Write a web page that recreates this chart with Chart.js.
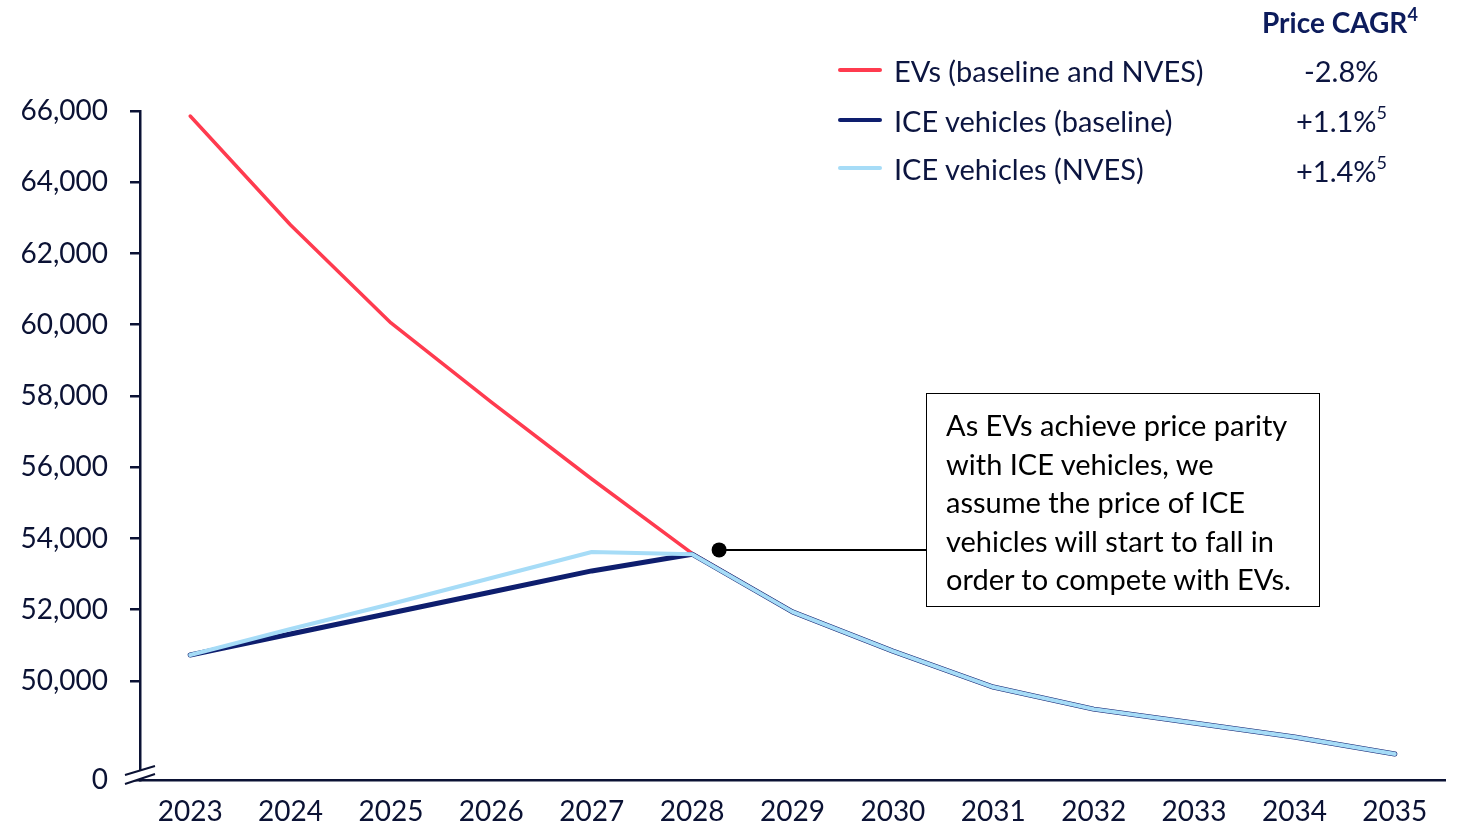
<!DOCTYPE html>
<html>
<head>
    <meta charset="UTF-8">
    <title>EV vs ICE price</title>
    <script src="https://cdn.jsdelivr.net/npm/chart.js@4.4.1/dist/chart.umd.min.js"></script>
    <style>
        body { margin: 0; background: #fff; font-family: Lato, sans-serif; }
        #wrap { position: relative; width: 1461px; height: 828px; }
        .txt { position: absolute; white-space: nowrap; color: #0c1540; font-size: 29px; line-height: 1; }
        .sw { position: absolute; left: 838px; width: 44px; height: 4px; border-radius: 2px; }
        sup { font-size: 18px; position: relative; top: -3px; vertical-align: top; }
        #note { position: absolute; left: 926px; top: 393px; width: 394px; height: 214px; border: 1.5px solid #000;
                box-sizing: border-box; padding: 12px 0 0 19px; font-size: 29px; line-height: 38.6px; color: #000; }
    </style>
</head>
<body>
<div id="wrap">
    <canvas id="myChart" width="1461" height="828"></canvas>

    <div class="txt" style="left:1262px; top:8px; font-weight:700; color:#0d1c5c; font-size:28px;">Price CAGR<sup>4</sup></div>

    <div class="sw" style="top:68px; background:#ff3b4f;"></div>
    <div class="sw" style="top:118px; background:#0e1e6e;"></div>
    <div class="sw" style="top:166px; background:#a6dcf7;"></div>
    <div class="txt" id="lg0" style="left:894px; top:56px;"></div>
    <div class="txt" id="lg1" style="left:894px; top:106px;"></div>
    <div class="txt" id="lg2" style="left:894px; top:154px;"></div>
    <div class="txt" id="cg0" style="left:1304px; top:56px;"></div>
    <div class="txt" id="cg1" style="left:1296px; top:106px;"></div>
    <div class="txt" id="cg2" style="left:1296px; top:156px;"></div>

    <div id="note">As EVs achieve price parity<br>with ICE vehicles, we<br>assume the price of ICE<br>vehicles will start to fall in<br>order to compete with EVs.</div>
</div>

<script>
    // data
    let years = ["2023", "2024", "2025", "2026", "2027", "2028", "2029", "2030", "2031", "2032", "2033", "2034", "2035"];
    let evPrice = [65860, 62800, 60050, 57830, 55670, 53580, 51940, 50840, 49830, 49210, 48820, 48430, 47950];
    let iceBase = [50730, 51320, 51910, 52500, 53090, 53560, 51940, 50840, 49830, 49210, 48820, 48430, 47950];
    let iceNves = [50730, 51460, 52160, 52890, 53620, 53560, 51940, 50840, 49830, 49210, 48820, 48430, 47950];
    let seriesNames = ["EVs (baseline and NVES)", "ICE vehicles (baseline)", "ICE vehicles (NVES)"];
    let cagr = ["-2.8%", "+1.1%<sup>5</sup>", "+1.4%<sup>5</sup>"];
    let yTicks = [50000, 52000, 54000, 56000, 58000, 60000, 62000, 64000, 66000];
    let yBreak = 47221; // where the "0" sits after the axis break

    for (let i = 0; i < 3; i++) {
        document.getElementById("lg" + i).textContent = seriesNames[i];
        document.getElementById("cg" + i).innerHTML = cagr[i];
    }

    const navy = "#0b1234";

    // axis break marks + the callout line/dot
    const extras = {
        id: "extras",
        afterDraw(chart) {
            const c = chart.ctx;
            const x0 = chart.scales.x.left;
            const yb = chart.scales.y.getPixelForValue(yBreak) - 9;
            c.save();
            c.fillStyle = "#fff";
            c.beginPath();
            c.moveTo(x0 - 15, yb + 4);
            c.lineTo(x0 + 15, yb - 5);
            c.lineTo(x0 + 15, yb + 3);
            c.lineTo(x0 - 15, yb + 13);
            c.closePath();
            c.fill();
            c.strokeStyle = navy;
            c.lineWidth = 2;
            c.beginPath();
            c.moveTo(x0 - 15, yb + 4); c.lineTo(x0 + 15, yb - 5);
            c.moveTo(x0 - 15, yb + 13); c.lineTo(x0 + 15, yb + 3);
            c.stroke();

            // callout
            const px = chart.scales.x.getPixelForValue(5) + 27;
            const py = chart.scales.y.getPixelForValue(53680);
            c.strokeStyle = "#000";
            c.lineWidth = 2;
            c.beginPath();
            c.moveTo(px, py); c.lineTo(926, py);
            c.stroke();
            c.fillStyle = "#000";
            c.beginPath();
            c.arc(px, py, 7.5, 0, Math.PI * 2);
            c.fill();
            c.restore();
        }
    };

    var ctx = document.getElementById("myChart").getContext("2d");
    var myChart = new Chart(ctx, {
        type: "line",
        data: {
            labels: years,
            datasets: [
                { label: seriesNames[0], data: evPrice, borderColor: "#ff3b4f", borderWidth: 3.5, order: 3 },
                { label: seriesNames[1], data: iceBase, borderColor: "#0e1e6e", borderWidth: 5, order: 2 },
                { label: seriesNames[2], data: iceNves, borderColor: "#a6dcf7", borderWidth: 4, order: 1 }
            ]
        },
        options: {
            responsive: false,
            animation: false,
            events: [],
            elements: { point: { radius: 0 }, line: { tension: 0, borderCapStyle: "round", borderJoinStyle: "round" } },
            layout: { padding: { top: 111, right: 16, left: 0, bottom: 0 } },
            plugins: { legend: { display: false }, tooltip: { enabled: false } },
            scales: {
                x: {
                    offset: true,
                    grid: { display: false, drawTicks: false },
                    border: { display: true, color: navy, width: 2.5 },
                    ticks: { color: navy, font: { family: "Lato", size: 28 }, padding: 15, maxRotation: 0 },
                    afterFit(s) { s.height = 48; }
                },
                y: {
                    min: yBreak,
                    max: 66000,
                    grid: { display: true, drawOnChartArea: false, drawTicks: true, tickLength: 10, color: navy, lineWidth: 2.5 },
                    border: { display: true, color: navy, width: 2.5 },
                    afterBuildTicks(s) {
                        s.ticks = [yBreak].concat(yTicks).map(v => ({ value: v }));
                    },
                    ticks: {
                        color: navy,
                        font: { family: "Lato", size: 28 },
                        padding: 22,
                        callback: v => v === yBreak ? "0" : Number(v).toLocaleString("en-US")
                    },
                    afterFit(s) { s.width = 140; }
                }
            }
        },
        plugins: [extras]
    });
</script>
</body>
</html>
